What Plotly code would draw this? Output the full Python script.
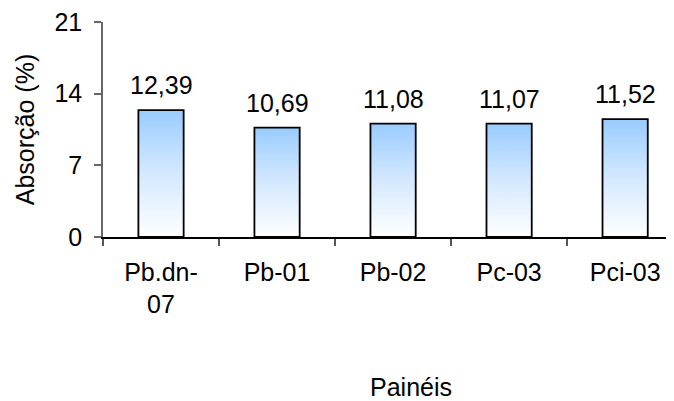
import plotly.graph_objects as go

# painel labels and absorption values (%)
paineis = ["Pb.dn-<br>07", "Pb-01", "Pb-02", "Pc-03", "Pci-03"]
absorcao = [12.39, 10.69, 11.08, 11.07, 11.52]
y_ticks = [0, 7, 14, 21]

FONT = "Liberation Sans, Arial, sans-serif"
BAR_W = 0.39
x_pos = list(range(len(paineis)))

fig = go.Figure()

# bars drawn as filled shapes so they can carry a vertical gradient
for i, v in zip(x_pos, absorcao):
    fig.add_trace(go.Scatter(
        x=[i - BAR_W / 2, i - BAR_W / 2, i + BAR_W / 2, i + BAR_W / 2, i - BAR_W / 2],
        y=[0, v, v, 0, 0],
        mode="lines",
        fill="toself",
        fillgradient=dict(type="vertical",
                          colorscale=[[0, "#FFFFFF"], [0.55, "#CFE6FF"], [1, "#99CCFF"]]),
        line=dict(color="black", width=1.8),
        hoverinfo="skip",
        showlegend=False,
    ))

# value labels with decimal comma
for i, v in zip(x_pos, absorcao):
    fig.add_annotation(
        x=i, y=v, text=f"{v:.2f}".replace(".", ","),
        showarrow=False, yanchor="bottom", yshift=9,
        font=dict(size=25, color="black", family=FONT),
    )

fig.add_annotation(
    x=0.532, y=-0.698, xref="paper", yref="paper", yanchor="middle",
    text="Painéis", showarrow=False,
    font=dict(size=25, color="black", family=FONT),
)

fig.update_layout(
    width=674, height=401,
    margin=dict(l=95, r=0, t=14, b=172),
    plot_bgcolor="white", paper_bgcolor="white",
    font=dict(family=FONT, size=25, color="black"),
    showlegend=False,
)

fig.update_xaxes(
    range=[-0.5, 4.49],
    tickmode="array", tickvals=x_pos, ticktext=paineis,
    ticks="", ticklabelstandoff=12,
    minor=dict(tickmode="array", tickvals=[k - 0.5 for k in range(len(paineis) + 1)],
               ticks="outside", ticklen=7, tickcolor="#555555", tickwidth=1.5),
    showline=True, linecolor="black", linewidth=1.5,
    showgrid=False, zeroline=False, fixedrange=True, automargin=False,
)

fig.update_yaxes(
    range=[0, 21],
    tickmode="array", tickvals=y_ticks,
    ticks="outside", ticklen=7, tickcolor="#666666", tickwidth=1.5,
    ticklabelstandoff=7, ticklabeloverflow="allow",
    showline=True, linecolor="#666666", linewidth=1.5,
    showgrid=False, zeroline=False, automargin=False,
    title=dict(text="Absorção (%)", standoff=13, font=dict(size=25, family=FONT)),
)

fig.write_html("out.html")
